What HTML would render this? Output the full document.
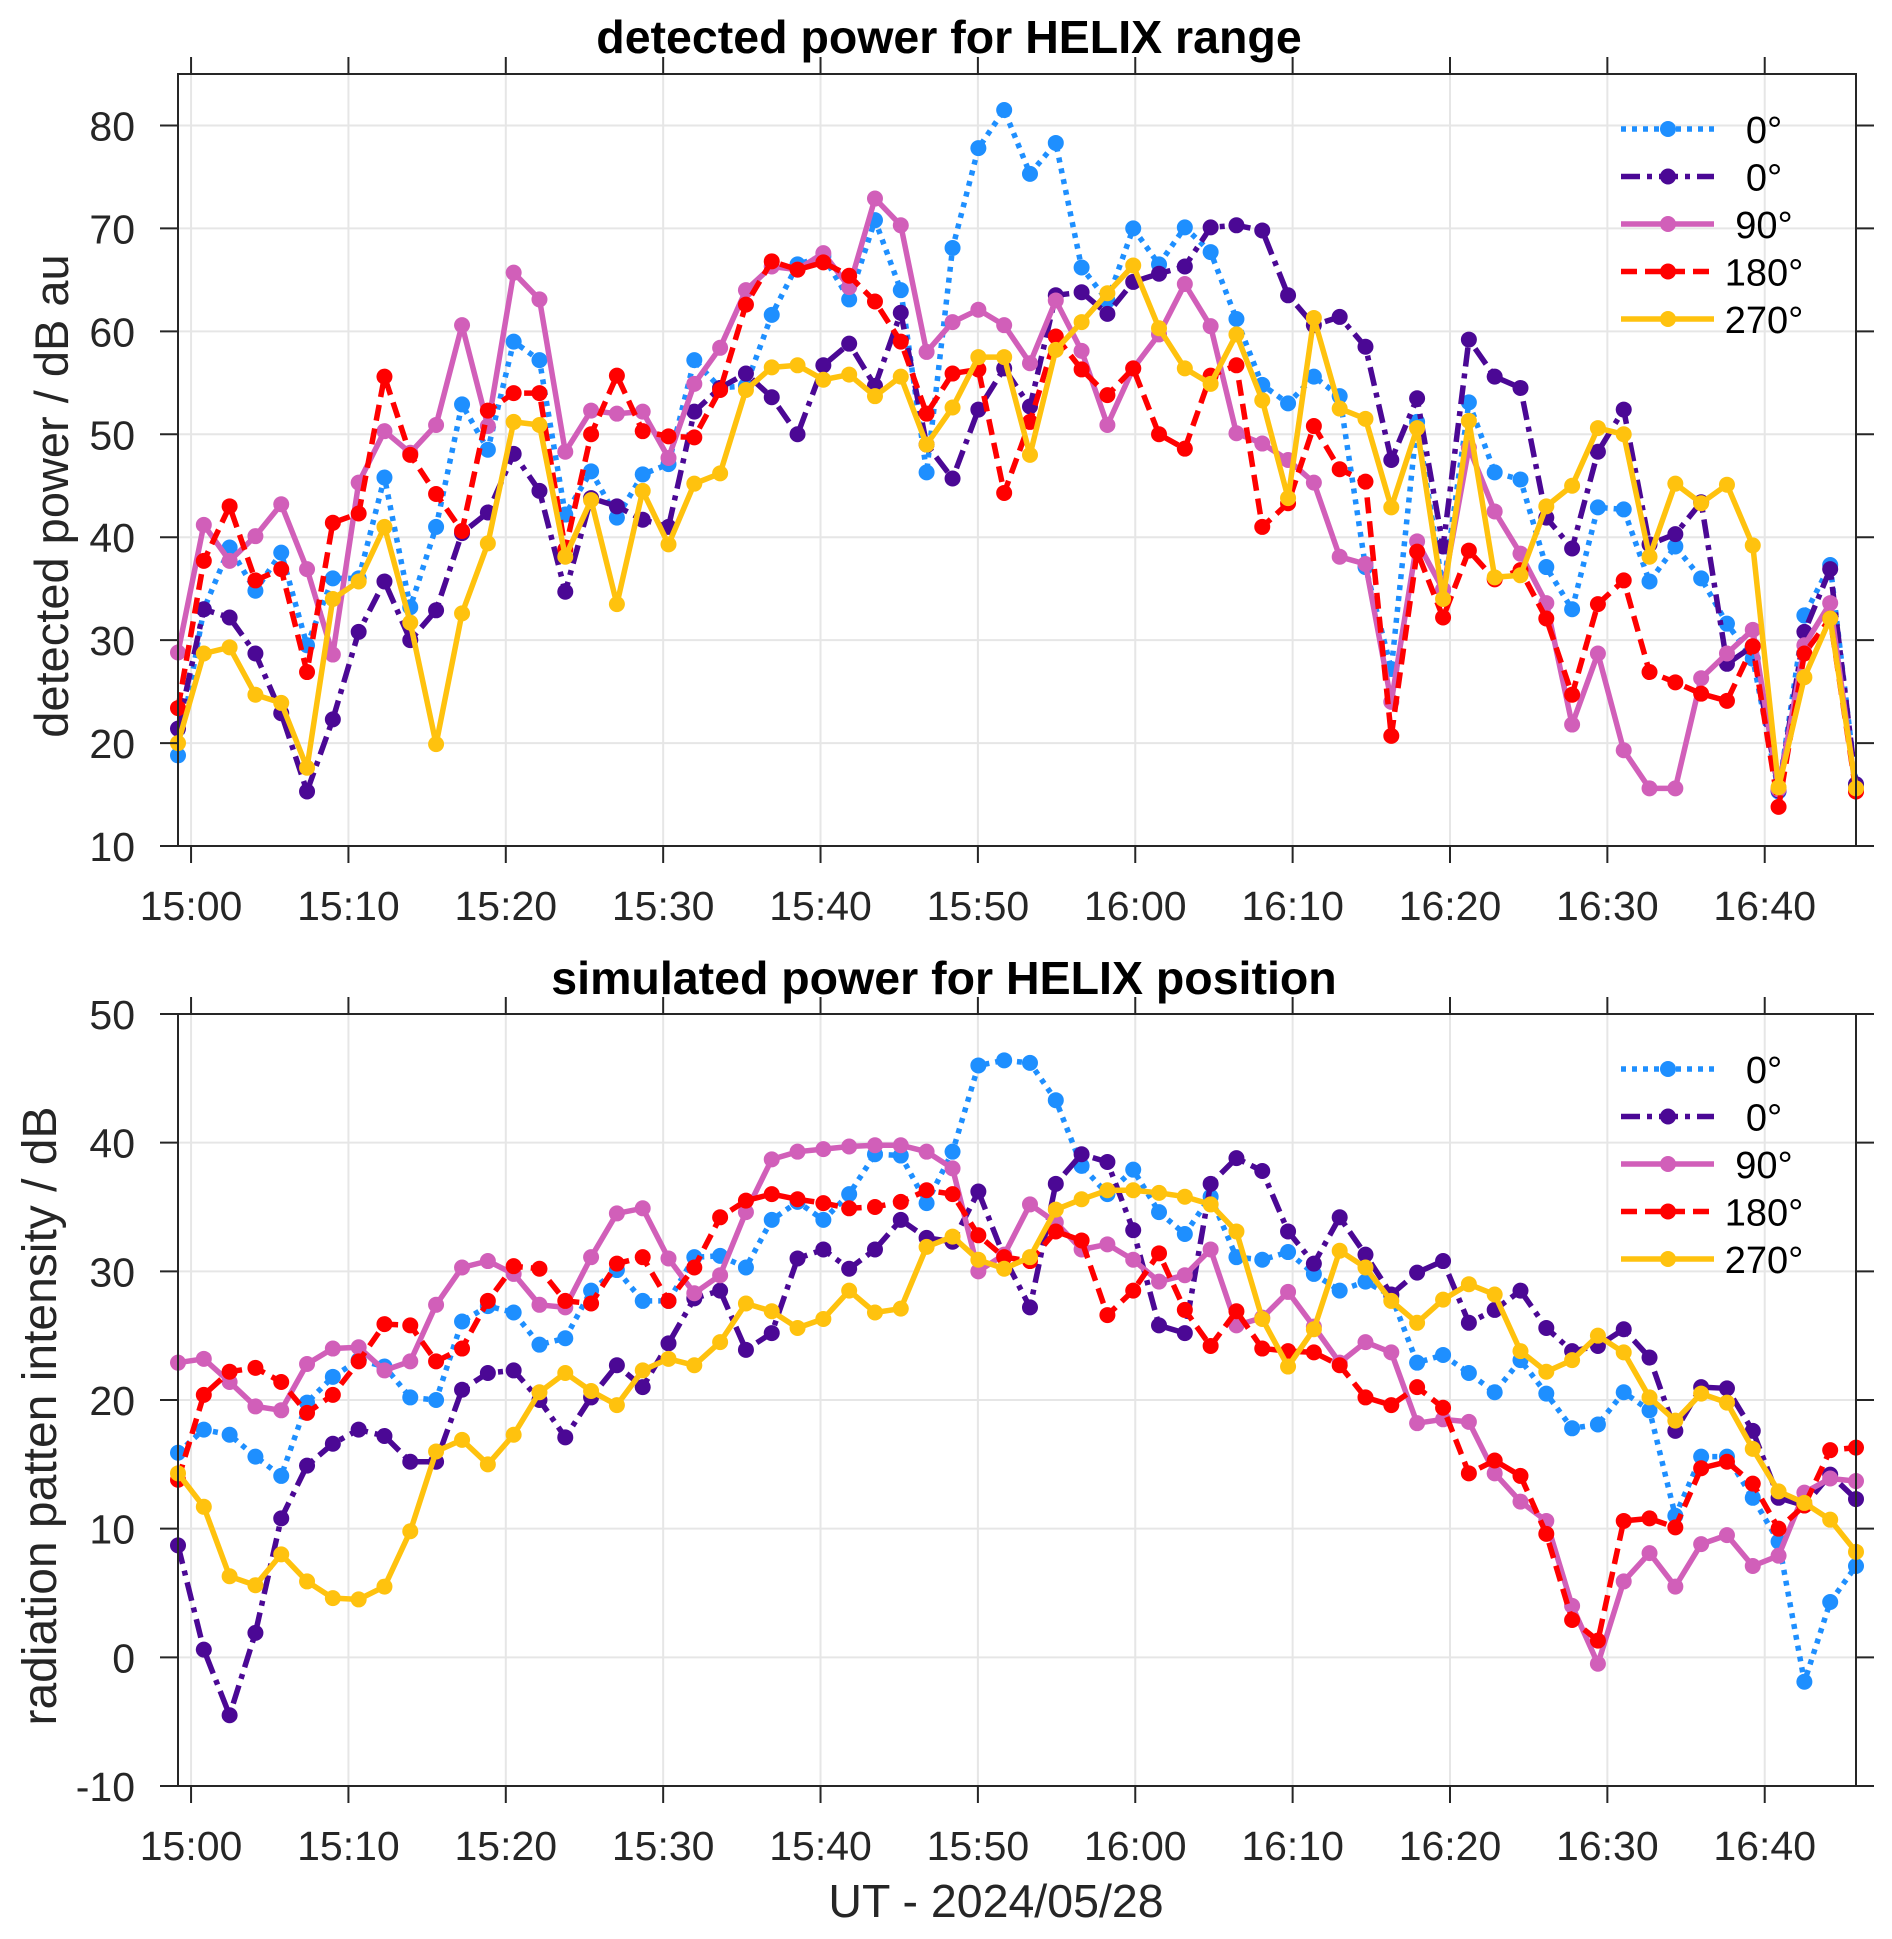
<!DOCTYPE html>
<html><head><meta charset="utf-8"><style>
html,body{margin:0;padding:0;background:#fff;}
svg{display:block;font-family:"Liberation Sans",Arial,sans-serif;}
</style></head><body>
<svg id="chart" width="1892" height="1939" viewBox="0 0 1892 1939" xmlns="http://www.w3.org/2000/svg">
<rect x="0" y="0" width="1892" height="1939" fill="#fff"/>
<text x="949" y="53" text-anchor="middle" font-size="46.5" font-weight="bold" fill="#000">detected power for HELIX range</text>
<text x="944" y="994" text-anchor="middle" font-size="46.5" font-weight="bold" fill="#000">simulated power for HELIX position</text>
<text transform="translate(68,496) rotate(-90)" text-anchor="middle" font-size="47" fill="#262626">detected power / dB au</text>
<text transform="translate(56,1416) rotate(-90)" text-anchor="middle" font-size="48" fill="#262626">radiation patten intensity / dB</text>
<text x="996" y="1917" text-anchor="middle" font-size="46.5" fill="#262626">UT - 2024/05/28</text>
</svg>
<script>
const times=[-0.83,0.81,2.45,4.09,5.73,7.37,9.01,10.65,12.29,13.93,15.57,17.22,18.86,20.50,22.14,23.78,25.42,27.06,28.70,30.34,31.98,33.62,35.26,36.90,38.54,40.18,41.82,43.46,45.10,46.74,48.39,50.03,51.67,53.31,54.95,56.59,58.23,59.87,61.51,63.15,64.79,66.43,68.07,69.71,71.35,72.99,74.63,76.27,77.91,79.56,81.20,82.84,84.48,86.12,87.76,89.40,91.04,92.68,94.32,95.96,97.60,99.24,100.88,102.52,104.16,105.80];
const xTickValues=[0,10,20,30,40,50,60,70,80,90,100];
const xTickLabels=["15:00","15:10","15:20","15:30","15:40","15:50","16:00","16:10","16:20","16:30","16:40"];
const topYTicks=[10,20,30,40,50,60,70,80];
const botYTicks=[-10,0,10,20,30,40,50];
const legendLabels=["0°","0°","90°","180°","270°"];
const topBlue=[18.8,33,39.0,34.8,38.5,29.5,36,36,45.8,33.2,41,52.9,48.5,59.0,57.2,42.2,46.4,41.9,46.1,47.1,57.2,54.5,54.7,61.6,66.5,67.3,63.1,70.8,64.0,46.3,68.1,77.8,81.5,75.3,78.3,66.2,63.0,70,66.5,70.1,67.7,61.2,54.8,53,55.6,53.7,37.1,27.2,51.2,34.9,53.1,46.3,45.6,37.1,33.0,42.9,42.7,35.7,39.1,36.0,31.6,28.2,15.3,32.4,37.3,16.0];
const topPurple=[21.4,33.0,32.2,28.7,22.9,15.3,22.3,30.8,35.7,30.0,32.9,40.4,42.4,48.1,44.5,34.7,43.8,43.0,41.7,41.0,52.2,54.5,55.9,53.6,50.0,56.7,58.8,54.7,61.8,49.0,45.7,52.4,56.4,52.7,63.5,63.8,61.7,64.8,65.6,66.3,70.1,70.3,69.8,63.5,60.6,61.4,58.5,47.5,53.5,39.1,59.2,55.6,54.5,41.9,38.9,48.3,52.4,39.3,40.3,43.4,27.7,29.4,15.4,30.8,36.9,16.0];
const topPink=[28.8,41.2,37.7,40.1,43.2,36.9,28.6,45.3,50.3,48.2,50.9,60.6,50.8,65.7,63.1,48.3,52.3,52.0,52.2,47.7,54.9,58.4,64.0,66.3,66.0,67.6,64.3,72.9,70.3,58.0,60.9,62.1,60.6,56.9,63.0,58.1,50.9,56.4,59.7,64.6,60.5,50.1,49.1,47.5,45.3,38.1,37.4,24.0,39.6,34.9,48.7,42.5,38.4,33.6,21.8,28.7,19.3,15.6,15.6,26.3,28.7,31.0,15.5,29.5,33.6,15.3];
const topRed=[23.4,37.7,43.0,35.8,36.9,26.9,41.4,42.3,55.6,48.0,44.2,40.6,52.3,54.0,54.0,38.8,50.0,55.7,50.3,49.8,49.7,54.3,62.6,66.8,66.0,66.7,65.4,62.9,59.0,52.0,55.9,56.3,44.3,51.2,59.5,56.3,53.8,56.4,50.0,48.6,55.7,56.7,41.0,43.3,50.8,46.6,45.4,20.7,38.6,32.2,38.7,35.9,36.8,32.1,24.7,33.5,35.8,26.9,25.9,24.8,24.1,29.4,13.8,28.7,32.1,15.3];
const topGold=[20.0,28.7,29.3,24.7,23.9,17.6,34.0,35.7,41.0,31.7,19.9,32.6,39.4,51.2,50.9,38.1,43.6,33.5,44.5,39.3,45.2,46.2,54.3,56.5,56.7,55.3,55.8,53.7,55.6,49.0,52.6,57.5,57.5,48.0,58.2,60.9,63.7,66.4,60.3,56.4,54.9,59.7,53.3,43.8,61.3,52.5,51.5,42.9,50.6,34.0,51.3,36.1,36.3,43.0,45.0,50.6,50.0,38.1,45.2,43.3,45.1,39.2,15.7,26.4,32.1,15.6];
const botBlue=[15.9,17.7,17.3,15.6,14.1,19.8,21.8,23.1,22.6,20.2,20.0,26.1,27.3,26.8,24.3,24.8,28.5,30.1,27.7,27.7,31.1,31.2,30.3,34.0,35.4,34.0,36.0,39.1,39.0,35.3,39.3,46.0,46.4,46.2,43.3,38.2,36.0,37.9,34.6,32.9,35.8,31.1,30.9,31.5,29.8,28.5,29.2,28.1,22.9,23.5,22.1,20.6,23.1,20.5,17.8,18.1,20.6,19.2,11.0,15.6,15.6,12.4,9.0,-1.9,4.3,7.1];
const botPurple=[8.7,0.6,-4.5,1.9,10.8,14.9,16.6,17.7,17.2,15.2,15.2,20.8,22.1,22.3,20.0,17.1,20.2,22.7,21.0,24.4,27.9,28.5,23.9,25.2,31.0,31.7,30.2,31.7,34.0,32.6,32.3,36.2,31.1,27.2,36.8,39.1,38.5,33.2,25.8,25.2,36.8,38.8,37.8,33.1,30.6,34.2,31.3,28.2,29.9,30.8,26.0,27.0,28.5,25.6,23.8,24.2,25.5,23.3,17.6,21.0,20.9,17.6,12.4,11.8,14.2,12.3];
const botPink=[22.9,23.2,21.4,19.5,19.2,22.8,24.0,24.1,22.3,23.0,27.4,30.3,30.8,29.8,27.4,27.2,31.1,34.5,34.9,31.0,28.3,29.7,34.6,38.7,39.3,39.5,39.7,39.8,39.8,39.3,38.0,30.0,31.3,35.2,33.8,31.7,32.1,30.9,29.2,29.7,31.7,25.8,26.4,28.4,25.7,22.9,24.5,23.7,18.2,18.5,18.3,14.3,12.1,10.6,4.0,-0.5,5.9,8.1,5.5,8.8,9.5,7.1,7.9,12.8,13.9,13.7];
const botRed=[13.8,20.4,22.2,22.5,21.4,19.0,20.4,23.0,25.9,25.8,23.0,24.0,27.7,30.4,30.2,27.7,27.5,30.6,31.1,27.7,30.3,34.2,35.5,36.0,35.6,35.3,34.9,35.0,35.4,36.3,36.0,32.8,31.1,30.8,33.1,32.4,26.6,28.5,31.4,27.0,24.2,26.9,24.0,23.8,23.7,22.7,20.2,19.6,21.0,19.4,14.3,15.3,14.1,9.6,2.9,1.3,10.6,10.8,10.1,14.7,15.2,13.5,10.0,11.8,16.1,16.3];
const botGold=[14.3,11.7,6.3,5.6,8.0,5.9,4.6,4.5,5.5,9.8,16.0,16.9,15.0,17.3,20.6,22.1,20.7,19.6,22.3,23.2,22.7,24.5,27.5,26.9,25.6,26.3,28.5,26.8,27.1,31.9,32.7,30.9,30.2,31.1,34.8,35.6,36.3,36.3,36.1,35.8,35.2,33.1,26.3,22.6,25.5,31.6,30.3,27.7,26.0,27.8,29.0,28.2,23.8,22.2,23.1,25.0,23.7,20.2,18.4,20.5,19.8,16.2,12.9,12.0,10.7,8.2];

const NS="http://www.w3.org/2000/svg";
const svg=document.getElementById('chart');
const styles=[
 {name:'blue-0deg',color:'#1E8FFF',dash:'5,6',cap:'butt'},
 {name:'purple-0deg',color:'#4B0895',dash:'19,7,5,7',cap:'butt'},
 {name:'pink-90deg',color:'#D15FB9',dash:'',cap:'round'},
 {name:'red-180deg',color:'#FF0000',dash:'16,8',cap:'butt'},
 {name:'gold-270deg',color:'#FFC20E',dash:'',cap:'round'}
];
const X0=178,X1=1856,TMIN=-0.83,TMAX=105.80;
function xs(t){return X0+(t-TMIN)/(TMAX-TMIN)*(X1-X0);}
function mk(tag,attrs,parent){const e=document.createElementNS(NS,tag);for(const k in attrs)e.setAttribute(k,attrs[k]);(parent||svg).appendChild(e);return e;}

function panel(prefix,top,bottom,ymin,ymax,yticks,series){
  const ys=v=>bottom-(v-ymin)/(ymax-ymin)*(bottom-top);
  const g=mk('g',{});
  
  
  xTickValues.forEach((t,i)=>{
    const l=mk('line',{x1:xs(t),x2:xs(t),y1:top,y2:bottom,stroke:'#e6e6e6','stroke-width':2},g);
    
    
  });
  yticks.forEach(v=>{
    const l=mk('line',{x1:X0,x2:X1,y1:ys(v),y2:ys(v),stroke:'#e6e6e6','stroke-width':2},g);
    
    
  });
  series.forEach((data,si)=>{
    const st=styles[si];
    const sg=mk('g',{},g);
    
    
    const pts=data.map((v,i)=>xs(times[i]).toFixed(1)+','+ys(v).toFixed(1)).join(' ');
    const pl=mk('polyline',{points:pts,fill:'none',stroke:st.color,'stroke-width':5.5,'stroke-linejoin':'round','stroke-linecap':st.cap},sg);
    if(st.dash)pl.setAttribute('stroke-dasharray',st.dash);
    
    
    data.forEach((v,i)=>{
      const c=mk('circle',{cx:xs(times[i]),cy:ys(v),r:8,fill:st.color},sg);
      
      
    });
  });
  const b=mk('rect',{x:X0,y:top,width:X1-X0,height:bottom-top,fill:'none',stroke:'#262626','stroke-width':2},g);
  
  
  xTickValues.forEach((t,i)=>{
    const x=xs(t);
    const a=mk('line',{x1:x,x2:x,y1:bottom,y2:bottom+17,stroke:'#262626','stroke-width':2},g);
    
    
    const a2=mk('line',{x1:x,x2:x,y1:top,y2:top-17,stroke:'#262626','stroke-width':2},g);
    
    
    const tx=mk('text',{x:x,y:bottom+74,'text-anchor':'middle','font-size':41,fill:'#262626'},g);
    tx.textContent=xTickLabels[i];
    
    
  });
  yticks.forEach(v=>{
    const y=ys(v);
    const a=mk('line',{x1:X0-18,x2:X0,y1:y,y2:y,stroke:'#262626','stroke-width':2},g);
    
    
    const a2=mk('line',{x1:X1,x2:X1+18,y1:y,y2:y,stroke:'#262626','stroke-width':2},g);
    
    
    const tx=mk('text',{x:135,y:y+15,'text-anchor':'end','font-size':41,fill:'#262626'},g);
    tx.textContent=String(v);
    
    
  });
  const lg=mk('g',{},g);
  
  
  legendLabels.forEach((lab,i)=>{
    const st=styles[i];
    const y=top+55+i*47.5;
    const e=mk('g',{},lg);
    
    
    const l=mk('line',{x1:1621,x2:1714,y1:y,y2:y,stroke:st.color,'stroke-width':5.5},e);
    if(st.dash)l.setAttribute('stroke-dasharray',st.dash);
    
    
    const c=mk('circle',{cx:1668,cy:y,r:8,fill:st.color},e);
    
    
    const t=mk('text',{x:1764,y:y+14,'text-anchor':'middle','font-size':38,fill:'#000'},e);
    t.textContent=lab;
    
    
  });
}
panel('top',74,846,10,85,topYTicks,[topBlue,topPurple,topPink,topRed,topGold]);
panel('bottom',1014,1786,-10,50,botYTicks,[botBlue,botPurple,botPink,botRed,botGold]);
</script>
</body></html>
